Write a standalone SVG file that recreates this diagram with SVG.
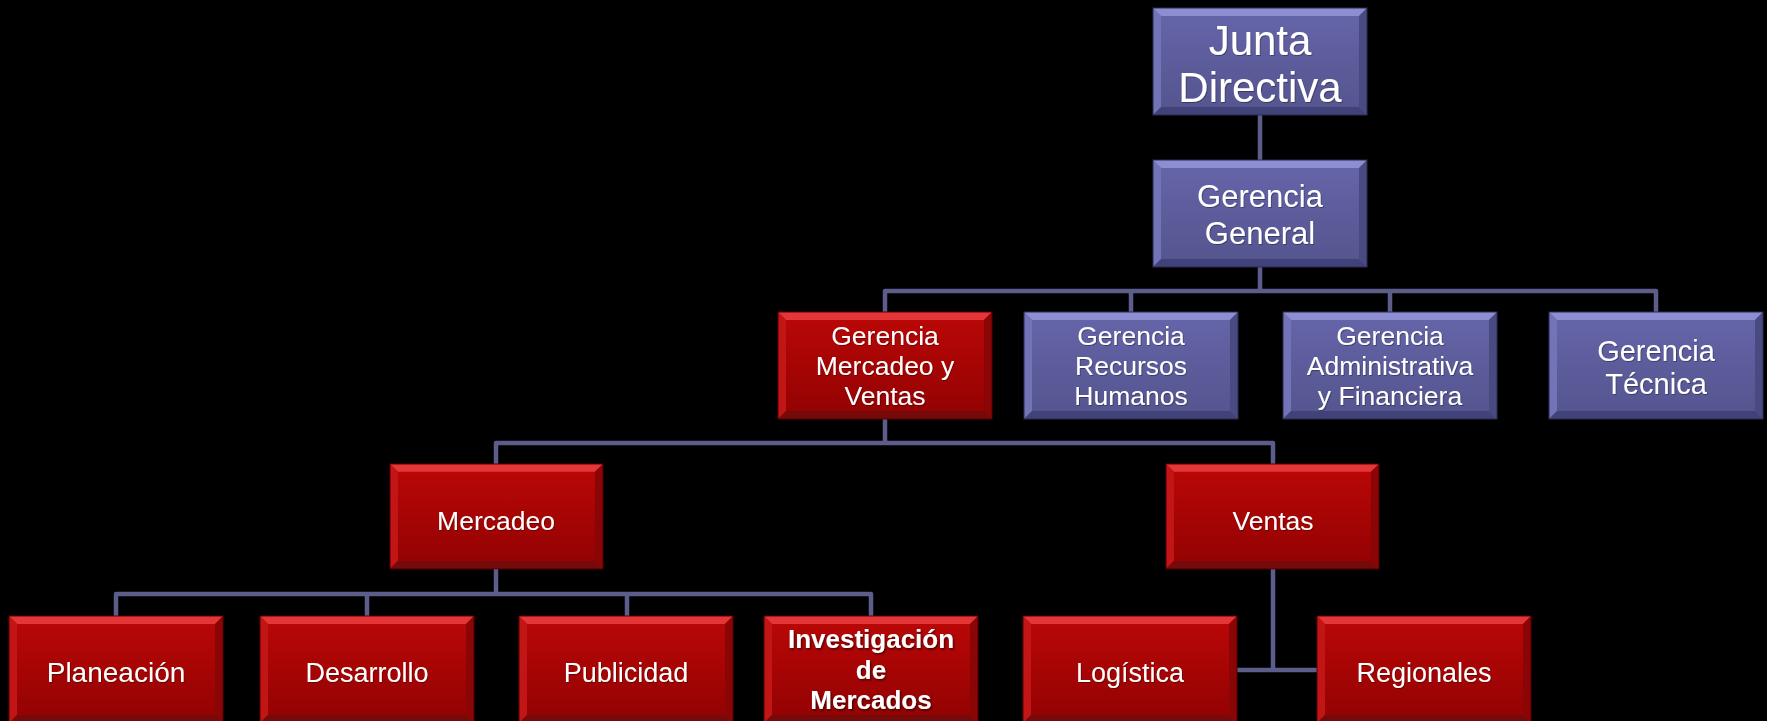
<svg xmlns="http://www.w3.org/2000/svg" xmlns:xlink="http://www.w3.org/1999/xlink" width="1767" height="721" viewBox="0 0 1767 721">
<style>
.t{font-family:"Liberation Sans",Arial,sans-serif;fill:#ffffff;text-anchor:middle;filter:url(#sh)}
.b{font-weight:bold;filter:url(#shb)}
.c{fill:none;stroke:#5d5d8c;stroke-width:4.5;stroke-linejoin:round}
</style>
<defs>
<filter id="sh" x="-10%" y="-20%" width="120%" height="150%"><feDropShadow dx="0.8" dy="1" stdDeviation="0.6" flood-color="#000" flood-opacity="0.35"/></filter>
<filter id="shb" x="-10%" y="-20%" width="120%" height="150%"><feDropShadow dx="1.2" dy="1.5" stdDeviation="1" flood-color="#000" flood-opacity="0.6"/></filter>
<linearGradient id="gr" x1="0" y1="0" x2="0" y2="1"><stop offset="0" stop-color="#bb0707"/><stop offset="1" stop-color="#920202"/></linearGradient>
<linearGradient id="gp" x1="0" y1="0" x2="0" y2="1"><stop offset="0" stop-color="#6565aa"/><stop offset="1" stop-color="#54548e"/></linearGradient>
<g id="red">
<rect x="0" y="0" width="214" height="107" fill="url(#gr)"/>
<polygon points="0,0 214,0 206,8 8,8" fill="#e43636"/>
<polygon points="0,0 8,8 8,99 0,107" fill="#c21515"/>
<polygon points="214,0 214,107 206,99 206,8" fill="#8a0505"/>
<polygon points="0,107 8,99 206,99 214,107" fill="#760a0a"/>
<rect x="0" y="0" width="214" height="107" fill="none" stroke="#5a0000" stroke-width="1"/>
</g>
<g id="pur">
<rect x="0" y="0" width="214" height="107" fill="url(#gp)"/>
<polygon points="0,0 214,0 206,8 8,8" fill="#8d8dd2"/>
<polygon points="0,0 8,8 8,99 0,107" fill="#7373b8"/>
<polygon points="214,0 214,107 206,99 206,8" fill="#4a4a82"/>
<polygon points="0,107 8,99 206,99 214,107" fill="#42427a"/>
<rect x="0" y="0" width="214" height="107" fill="none" stroke="#2c2c52" stroke-width="1"/>
</g>
</defs>
<rect x="0" y="0" width="1767" height="721" fill="#000000"/>
<g id="connectors">
<path class="c" d="M1260 115 V160"/>
<path class="c" d="M885 312 V291 H1656 V312 M1260 267 V291 M1131 291 V312 M1390 291 V312"/>
<path class="c" d="M885 419 V443 M496 464 V443 H1273 V464"/>
<path class="c" d="M496 569 V594 M116 616 V594 H871 V616 M367 594 V616 M627 594 V616"/>
<path class="c" d="M1273 569 V670 M1236 670 H1317"/>
</g>
<g id="junta"><use xlink:href="#pur" transform="translate(1153,8)"/><text class="t" font-size="42" x="1260" y="55">Junta</text><text class="t" font-size="42" x="1260" y="102">Directiva</text></g>
<g id="general"><use xlink:href="#pur" transform="translate(1153,160)"/><text class="t" font-size="31" x="1260" y="207">Gerencia</text><text class="t" font-size="31" x="1260" y="244">General</text></g>
<g id="mercventas"><use xlink:href="#red" transform="translate(778,312)"/><text class="t" font-size="26.5" x="885" y="345">Gerencia</text><text class="t" font-size="26.5" x="885" y="375">Mercadeo y</text><text class="t" font-size="26.5" x="885" y="405">Ventas</text></g>
<g id="rrhh"><use xlink:href="#pur" transform="translate(1024,312)"/><text class="t" font-size="26.5" x="1131" y="345">Gerencia</text><text class="t" font-size="26.5" x="1131" y="375">Recursos</text><text class="t" font-size="26.5" x="1131" y="405">Humanos</text></g>
<g id="admin"><use xlink:href="#pur" transform="translate(1283,312)"/><text class="t" font-size="26.5" x="1390" y="345">Gerencia</text><text class="t" font-size="26.5" x="1390" y="375">Administrativa</text><text class="t" font-size="26.5" x="1390" y="405">y Financiera</text></g>
<g id="tecnica"><use xlink:href="#pur" transform="translate(1549,312)"/><text class="t" font-size="29" x="1656" y="361">Gerencia</text><text class="t" font-size="29" x="1656" y="394">Técnica</text></g>
<g id="mercadeo"><use xlink:href="#red" transform="translate(390,464) scale(0.995,0.98)"/><text class="t" font-size="26.5" x="496" y="530">Mercadeo</text></g>
<g id="ventas"><use xlink:href="#red" transform="translate(1166,464) scale(0.995,0.98)"/><text class="t" font-size="26.5" x="1273" y="530">Ventas</text></g>
<g id="planeacion"><use xlink:href="#red" transform="translate(9,616)"/><text class="t" font-size="28" x="116" y="682">Planeación</text></g>
<g id="desarrollo"><use xlink:href="#red" transform="translate(260,616)"/><text class="t" font-size="27" x="367" y="682">Desarrollo</text></g>
<g id="publicidad"><use xlink:href="#red" transform="translate(519,616)"/><text class="t" font-size="27" x="626" y="682">Publicidad</text></g>
<g id="investigacion"><use xlink:href="#red" transform="translate(764,616)"/><text class="t b" font-size="26" x="871" y="648">Investigación</text><text class="t b" font-size="26" x="871" y="679">de</text><text class="t b" font-size="26" x="871" y="709">Mercados</text></g>
<g id="logistica"><use xlink:href="#red" transform="translate(1023,616)"/><text class="t" font-size="27" x="1130" y="682">Logística</text></g>
<g id="regionales"><use xlink:href="#red" transform="translate(1317,616)"/><text class="t" font-size="27" x="1424" y="682">Regionales</text></g>
</svg>
